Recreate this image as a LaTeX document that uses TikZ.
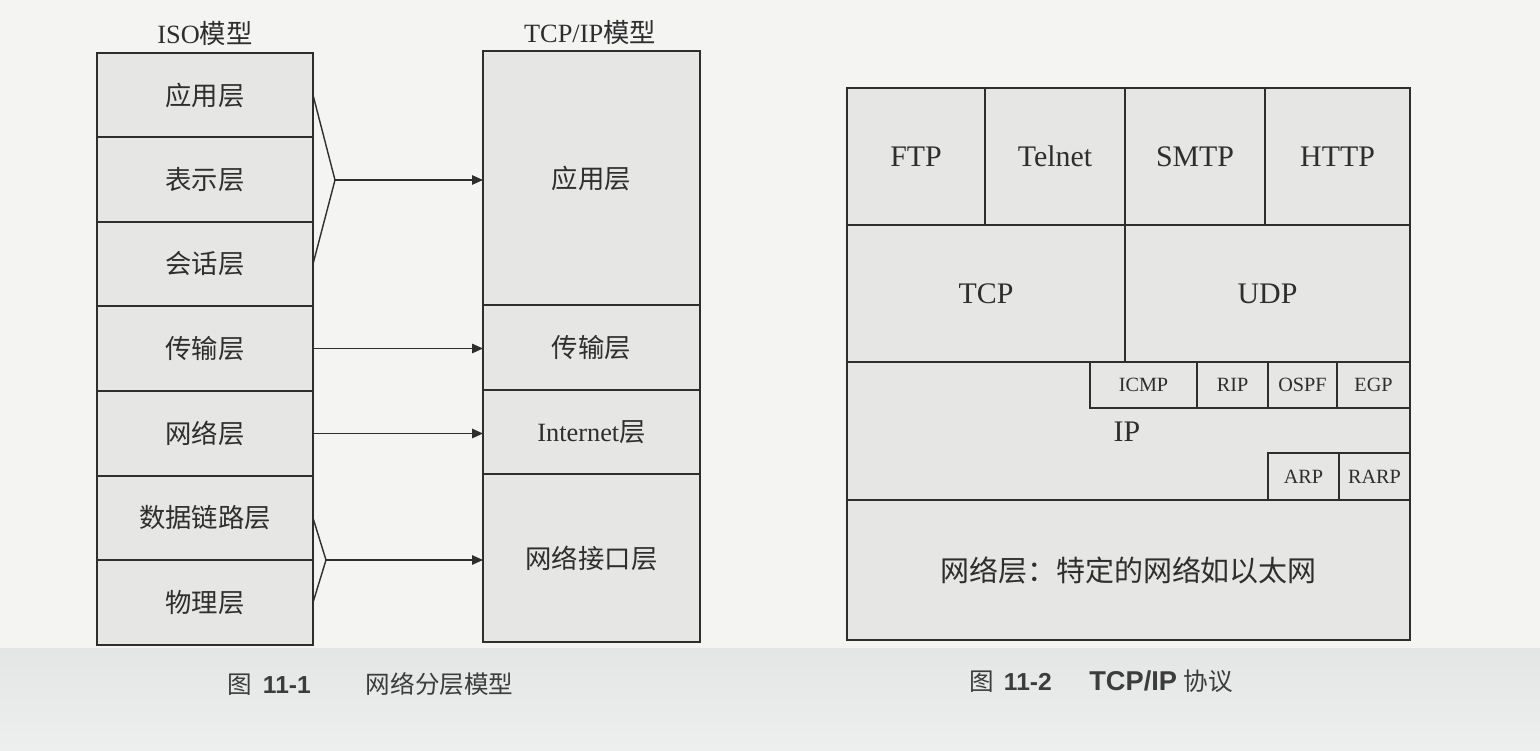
\documentclass[tikz,border=0pt]{standalone}
\usepackage{fontspec}
\setmainfont{Liberation Serif}
\newfontfamily\cjk{Noto Sans CJK SC}
\newfontfamily\capfont{Liberation Sans}
\usetikzlibrary{arrows.meta}
\definecolor{pagebg}{HTML}{F4F4F3}
\definecolor{bandtop}{HTML}{E4E5E5}
\definecolor{bandbot}{HTML}{EDEEEE}
\definecolor{cellfill}{HTML}{E6E6E5}
\definecolor{ink}{HTML}{2E2E2E}
\definecolor{captink}{HTML}{3C3C3C}
\newcommand\cellat[7]{\node[cellbox,#2,anchor=north west,minimum width={(#5-#3)*0.02cm},minimum height={(#6-#4)*0.02cm}] (#1) at (#3,#4) {#7};}
\begin{document}
\begin{tikzpicture}[x=0.02cm,y=-0.02cm,
  cellbox/.style={draw=ink,fill=cellfill,line width=1pt,inner sep=0pt,outer sep=0pt,align=center,text=ink},
  zh/.style={font=\cjk\fontsize{15}{18}\selectfont},
  zhb/.style={font=\cjk\fontsize{16.5}{20}\selectfont},
  en/.style={font=\fontsize{15}{18}\selectfont},
  enb/.style={font=\fontsize{17}{20}\selectfont},
  sm/.style={font=\fontsize{11.5}{14}\selectfont},
  conn/.style={draw=ink,line width=0.8pt,line join=miter},
  arr/.style={conn,-{Triangle[length=0.22cm,width=0.19cm]}},
  capt/.style={font=\capfont\fontsize{14}{17}\selectfont,text=captink,inner sep=0pt}]
\useasboundingbox (0,0) rectangle (1540,750);
\fill[pagebg] (0,0) rectangle (1540,750);
\shade[top color=bandtop,bottom color=bandbot] (0,648) rectangle (1540,750);
% ISO model
\node[en,text=ink] (isot) at (205,33) {ISO{\cjk 模型}};
\cellat{iso1}{zh}{97}{53}{313}{137}{应用层}
\cellat{iso2}{zh}{97}{137}{313}{222}{表示层}
\cellat{iso3}{zh}{97}{222}{313}{306}{会话层}
\cellat{iso4}{zh}{97}{306}{313}{391}{传输层}
\cellat{iso5}{zh}{97}{391}{313}{476}{网络层}
\cellat{iso6}{zh}{97}{476}{313}{560}{数据链路层}
\cellat{iso7}{zh}{97}{560}{313}{645}{物理层}
% TCP/IP model
\node[en,text=ink] (tcpt) at (590,32) {TCP/IP{\cjk 模型}};
\cellat{tcp1}{zh}{483}{51}{700}{305}{应用层}
\cellat{tcp2}{zh}{483}{305}{700}{390}{传输层}
\cellat{tcp3}{en}{483}{390}{700}{474}{Internet{\cjk 层}}
\cellat{tcp4}{zh}{483}{474}{700}{642}{网络接口层}
% connectors
\coordinate (v1) at (335,180);
\draw[conn] (iso1.east) -- (v1) -- (iso3.east);
\draw[arr] (v1) -- (v1 -| tcp1.west);
\draw[arr] (iso4.east) -- (iso4.east -| tcp2.west);
\draw[arr] (iso5.east) -- (iso5.east -| tcp3.west);
\coordinate (v2) at (326,560);
\draw[conn] (iso6.east) -- (v2) -- (iso7.east);
\draw[arr] (v2) -- (v2 -| tcp4.west);
% TCP/IP protocols
\cellat{ftp}{enb}{847}{88}{985}{225}{FTP}
\cellat{telnet}{enb}{985}{88}{1125}{225}{Telnet}
\cellat{smtp}{enb}{1125}{88}{1265}{225}{SMTP}
\cellat{http}{enb}{1265}{88}{1410}{225}{HTTP}
\cellat{tcp}{enb}{847}{225}{1125}{362}{TCP}
\cellat{udp}{enb}{1125}{225}{1410}{362}{UDP}
\cellat{ipbox}{enb}{847}{362}{1410}{500}{}
\node[enb,text=ink] (iplab) at (1127,432) {IP};
\cellat{icmp}{sm}{1090}{362}{1197}{408}{ICMP}
\cellat{rip}{sm}{1197}{362}{1268}{408}{RIP}
\cellat{ospf}{sm}{1268}{362}{1337}{408}{OSPF}
\cellat{egp}{sm}{1337}{362}{1410}{408}{EGP}
\cellat{arp}{sm}{1268}{453}{1339}{500}{ARP}
\cellat{rarp}{sm}{1339}{453}{1410}{500}{RARP}
\cellat{net}{zhb}{847}{500}{1410}{640}{网络层：特定的网络如以太网}
% captions
\node[capt,anchor=west] (cap1) at (227,684) {{\cjk 图}\hspace{0.22cm}\textbf{11-1}\hspace{1.1cm}{\cjk 网络分层模型}};
\node[capt,anchor=west] (cap2) at (969,681) {{\cjk 图}\hspace{0.2cm}\textbf{11-2}\hspace{0.75cm}{\fontsize{15.5}{17}\selectfont\bfseries TCP/IP} {\cjk 协议}};
\end{tikzpicture}
\end{document}
